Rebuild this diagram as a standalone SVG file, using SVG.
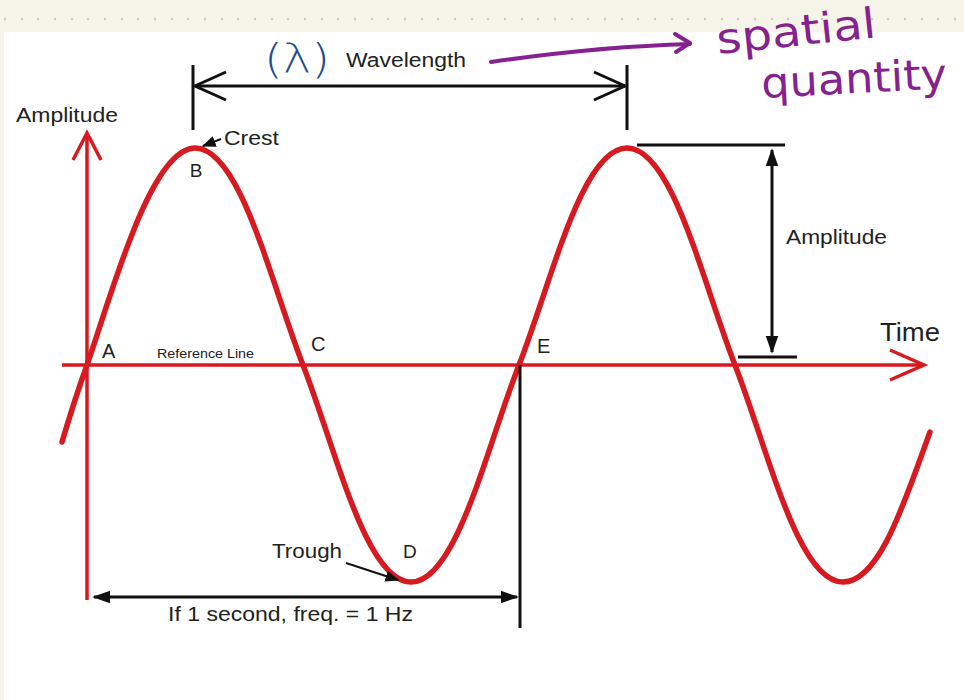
<svg xmlns="http://www.w3.org/2000/svg" width="964" height="700" viewBox="0 0 964 700">
<defs>
<style>
.lbl{font-family:"Liberation Sans",Arial,sans-serif;fill:#222}
.blk{stroke:#111;fill:none;stroke-width:3}
.red{stroke:#d71920;fill:none}
.hand{font-family:"DejaVu Sans","Noto Sans",sans-serif;fill:#85228f}
</style>
<marker id="fillHead" viewBox="0 0 10 10" refX="9" refY="5" markerWidth="6" markerHeight="6" orient="auto-start-reverse" markerUnits="strokeWidth">
<path d="M0,1.5 L10,5 L0,8.5 Z" fill="#111"/>
</marker>
<marker id="smallHead" viewBox="0 0 10 10" refX="9" refY="5" markerWidth="7" markerHeight="7" orient="auto" markerUnits="strokeWidth">
<path d="M0,1 L10,5 L0,9 Z" fill="#111"/>
</marker>
</defs>
<rect width="964" height="700" fill="#f6f4e9"/>
<rect x="4" y="32" width="960" height="668" fill="#ffffff"/>
<g id="dots" fill="#c9c8c0">
<circle cx="5" cy="19" r="1.2"/><circle cx="22" cy="19" r="1.2"/><circle cx="38" cy="19" r="1.2"/><circle cx="55" cy="19" r="1.2"/><circle cx="72" cy="19" r="1.2"/><circle cx="88" cy="19" r="1.2"/><circle cx="105" cy="19" r="1.2"/><circle cx="122" cy="19" r="1.2"/><circle cx="138" cy="19" r="1.2"/><circle cx="155" cy="19" r="1.2"/><circle cx="172" cy="19" r="1.2"/><circle cx="188" cy="19" r="1.2"/><circle cx="205" cy="19" r="1.2"/><circle cx="222" cy="19" r="1.2"/><circle cx="238" cy="19" r="1.2"/><circle cx="255" cy="19" r="1.2"/><circle cx="272" cy="19" r="1.2"/><circle cx="288" cy="19" r="1.2"/><circle cx="305" cy="19" r="1.2"/><circle cx="322" cy="19" r="1.2"/><circle cx="338" cy="19" r="1.2"/><circle cx="355" cy="19" r="1.2"/><circle cx="372" cy="19" r="1.2"/><circle cx="388" cy="19" r="1.2"/><circle cx="405" cy="19" r="1.2"/><circle cx="422" cy="19" r="1.2"/><circle cx="438" cy="19" r="1.2"/><circle cx="455" cy="19" r="1.2"/><circle cx="472" cy="19" r="1.2"/><circle cx="488" cy="19" r="1.2"/><circle cx="505" cy="19" r="1.2"/><circle cx="522" cy="19" r="1.2"/><circle cx="538" cy="19" r="1.2"/><circle cx="555" cy="19" r="1.2"/><circle cx="572" cy="19" r="1.2"/><circle cx="588" cy="19" r="1.2"/><circle cx="605" cy="19" r="1.2"/><circle cx="622" cy="19" r="1.2"/><circle cx="638" cy="19" r="1.2"/><circle cx="655" cy="19" r="1.2"/><circle cx="672" cy="19" r="1.2"/><circle cx="688" cy="19" r="1.2"/><circle cx="705" cy="19" r="1.2"/><circle cx="722" cy="19" r="1.2"/><circle cx="738" cy="19" r="1.2"/><circle cx="755" cy="19" r="1.2"/><circle cx="772" cy="19" r="1.2"/><circle cx="788" cy="19" r="1.2"/><circle cx="805" cy="19" r="1.2"/><circle cx="822" cy="19" r="1.2"/><circle cx="838" cy="19" r="1.2"/><circle cx="855" cy="19" r="1.2"/><circle cx="872" cy="19" r="1.2"/><circle cx="888" cy="19" r="1.2"/><circle cx="905" cy="19" r="1.2"/><circle cx="922" cy="19" r="1.2"/><circle cx="938" cy="19" r="1.2"/><circle cx="955" cy="19" r="1.2"/>
</g>
<g id="axes">
<line class="red" x1="87" y1="600" x2="87" y2="133" stroke-width="3.5"/>
<polyline class="red" points="73,160 87,133 101,160" stroke-width="3.5"/>
<line class="red" x1="62" y1="365" x2="924" y2="365" stroke-width="3.5"/>
<polyline class="red" points="890,350 924,365 890,380" stroke-width="3.5"/>
</g>
<g id="wave">
<path class="red" stroke-width="5.5" stroke-linecap="round" d="M62,442 C70,415 78,390 87,365 C110,300 150,148 195,148 C240,148 270,280 303,365 C336,450 366,582 411,582 C456,582 486,450 519,365 C552,280 582,148 627,148 C672,148 702,280 735,365 C768,450 798,582 843,582 C880,582 905,500 930,432"/>
</g>
<g id="connectors">
<line class="blk" x1="193" y1="65" x2="193" y2="130"/>
<line class="blk" x1="627" y1="65" x2="627" y2="130"/>
<line class="blk" x1="195" y1="86" x2="625" y2="86"/>
<polyline class="blk" points="226,72 195,86 226,100"/>
<polyline class="blk" points="594,72 625,86 594,100"/>
<line class="blk" x1="637" y1="145" x2="785" y2="145"/>
<line class="blk" x1="738" y1="357" x2="797" y2="357"/>
<line class="blk" x1="772" y1="150" x2="772" y2="352" marker-start="url(#fillHead)" marker-end="url(#fillHead)"/>
<line class="blk" x1="94" y1="597" x2="517" y2="597" marker-start="url(#fillHead)" marker-end="url(#fillHead)"/>
<line class="blk" x1="520" y1="365" x2="520" y2="628"/>
<line x1="221" y1="139" x2="203" y2="146" stroke="#111" stroke-width="2" marker-end="url(#smallHead)"/>
<line x1="346" y1="563" x2="398" y2="580" stroke="#111" stroke-width="2" marker-end="url(#smallHead)"/>
</g>
<g id="labels">
<text class="lbl" x="16" y="122" font-size="20" textLength="102" lengthAdjust="spacingAndGlyphs">Amplitude</text>
<text class="lbl" x="224" y="145" font-size="20" textLength="55" lengthAdjust="spacingAndGlyphs">Crest</text>
<text class="lbl" x="196" y="177" font-size="19" text-anchor="middle">B</text>
<text class="lbl" x="102" y="358" font-size="20">A</text>
<text class="lbl" x="157" y="358" font-size="12" textLength="97" lengthAdjust="spacingAndGlyphs">Reference Line</text>
<text class="lbl" x="311" y="351" font-size="20">C</text>
<text class="lbl" x="537" y="353" font-size="20">E</text>
<text class="lbl" x="880" y="341" font-size="25" textLength="60" lengthAdjust="spacingAndGlyphs">Time</text>
<text class="lbl" x="786" y="244" font-size="20" textLength="101" lengthAdjust="spacingAndGlyphs">Amplitude</text>
<text class="lbl" x="272" y="558" font-size="20" textLength="70" lengthAdjust="spacingAndGlyphs">Trough</text>
<text class="lbl" x="403" y="558" font-size="19">D</text>
<text class="lbl" x="168" y="621" font-size="20" textLength="245" lengthAdjust="spacingAndGlyphs">If 1 second, freq. = 1 Hz</text>
<text class="lbl" x="346" y="67" font-size="20" textLength="120" lengthAdjust="spacingAndGlyphs">Wavelength</text>
</g>
<g id="annotations">
<text x="264" y="73" font-family="DejaVu Sans,sans-serif" font-size="40" font-weight="300" fill="#1f4e94" textLength="66" lengthAdjust="spacingAndGlyphs">(λ)</text>
<path d="M491,62 C560,52 620,46 690,44" stroke="#85228f" stroke-width="4" fill="none" stroke-linecap="round"/>
<polyline points="675,34 690,43 676,52" stroke="#85228f" stroke-width="4" fill="none" stroke-linecap="round" stroke-linejoin="round"/>
<text class="hand" x="718" y="54" font-size="42" transform="rotate(-6 718 54)" textLength="160" lengthAdjust="spacingAndGlyphs">spatial</text>
<text class="hand" x="762" y="98" font-size="42" transform="rotate(-3 762 98)" textLength="186" lengthAdjust="spacingAndGlyphs">quantity</text>
</g>
</svg>
